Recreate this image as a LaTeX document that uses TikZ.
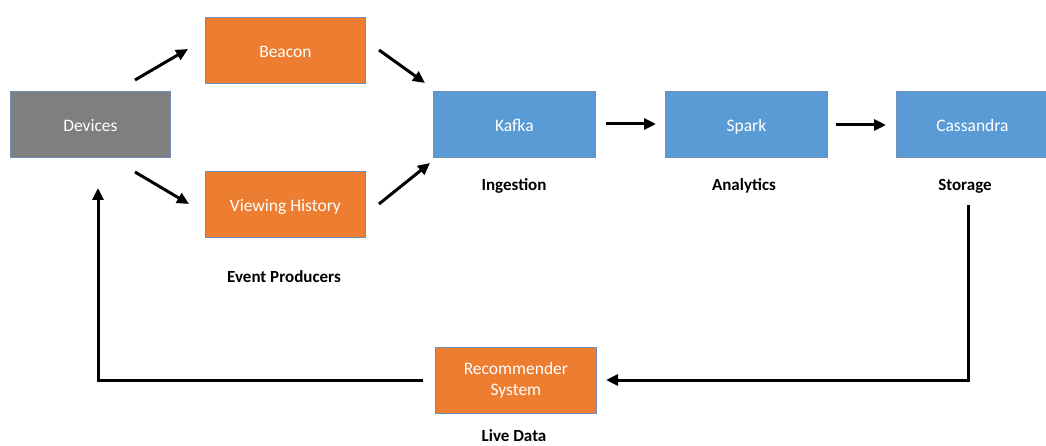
\documentclass[tikz,border=0pt]{standalone}
\usepackage{fontspec}
\setmainfont{Carlito}
\usetikzlibrary{arrows.meta}
\definecolor{orangebox}{HTML}{ED7D31}
\definecolor{bluebox}{HTML}{5B9BD5}
\definecolor{graybox}{HTML}{7F7F7F}
\definecolor{edgeblue}{HTML}{6E8FB8}
\begin{document}
\begin{tikzpicture}[x=1pt,y=-1pt,
  box/.style={draw=edgeblue,line width=0.8pt,minimum width=160pt,minimum height=66pt,inner sep=0pt,
    text=white,font=\fontsize{17.5}{21}\selectfont,align=center,anchor=north west,
    text height=16pt,text depth=2.5pt},
  lbl/.style={font=\bfseries\fontsize{17}{20}\selectfont,inner sep=0pt},
  arr/.style={line width=3pt,-{Triangle[length=12pt,width=11pt]}},
  ln/.style={line width=3pt}]
\useasboundingbox (0,0) rectangle (1046,446);
\node[box,fill=graybox] (dev) at (10,91) {Devices};
\node[box,fill=orangebox] (beacon) at (205,17) {Beacon};
\node[box,fill=orangebox] (vh) at (205,171) {Viewing History};
\node[box,fill=bluebox,minimum width=162pt] (kafka) at (433,91) {Kafka};
\node[box,fill=bluebox,minimum width=162pt] (spark) at (665,91) {Spark};
\node[box,fill=bluebox,minimum width=152pt] (cass) at (896,91) {Cassandra};
\node[box,fill=orangebox,minimum width=161pt,text height=,text depth=,font=\fontsize{17.5}{21.5}\selectfont] (rec) at (435,347) {Recommender\\System};
\node[lbl] (l1) at (514,186) {Ingestion};
\node[lbl] (l2) at (744,186) {Analytics};
\node[lbl] (l3) at (965,186) {Storage};
\node[lbl] (l4) at (284,277) {Event Producers};
\node[lbl] (l5) at (514,436) {Live Data};
% arrow endpoints
\coordinate (a1s) at (135,80);  \coordinate (a1e) at (188,49);
\coordinate (a2s) at (379,50);  \coordinate (a2e) at (425,83);
\coordinate (a3s) at (135,172); \coordinate (a3e) at (189,204);
\coordinate (a4s) at (379,204); \coordinate (a4e) at (430,163);
\coordinate (a5s) at (606,124); \coordinate (a5e) at (656,124);
\coordinate (a6s) at (836,125); \coordinate (a6e) at (886,125);
\coordinate (c1) at (968,205); \coordinate (c2) at (968,380); \coordinate (c3) at (606,380);
\coordinate (d1) at (423,380); \coordinate (d2) at (98,380); \coordinate (d3) at (98,188);
\draw[arr] (a1s) -- (a1e);
\draw[arr] (a2s) -- (a2e);
\draw[arr] (a3s) -- (a3e);
\draw[arr] (a4s) -- (a4e);
\draw[arr] (a5s) -- (a5e);
\draw[arr] (a6s) -- (a6e);
\draw[arr] (c1) -- (c2) -- (c3);
\draw[arr] (d1) -- (d2) -- (d3);
\end{tikzpicture}
\end{document}
